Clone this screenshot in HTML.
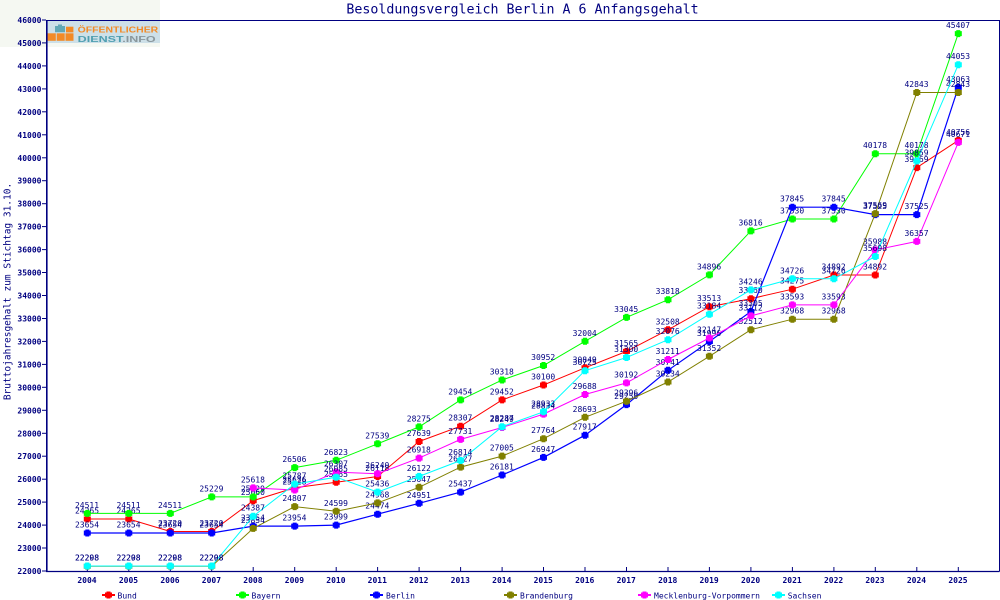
<!DOCTYPE html>
<html><head><meta charset="utf-8"><style>
html,body{margin:0;padding:0;background:#fff;}
svg{display:block;}
.lb{font-family:"DejaVu Sans Mono","Liberation Mono",monospace;font-size:8px;fill:#000080;text-anchor:middle;}
.tk{font-family:"DejaVu Sans Mono","Liberation Mono",monospace;font-size:8px;font-weight:bold;fill:#000080;}
</style></head><body>
<svg width="1000" height="600" viewBox="0 0 1000 600" xmlns="http://www.w3.org/2000/svg">
<defs><path id="m" d="M-2,-3.5h4v1h1.5v5h-1.5v1h-4v-1h-1.5v-5h1.5z"/></defs>
<rect x="0" y="0" width="1000" height="600" fill="#fff"/>
<rect x="0" y="0" width="160" height="47" fill="#f5f8f2"/>
<!-- logo -->
<rect x="47" y="20" width="113" height="23" fill="#cde0e8"/>
<rect x="47.5" y="33.3" width="8.3" height="7.5" fill="#f28a26"/>
<rect x="56.7" y="33.3" width="8" height="7.5" fill="#f28a26"/>
<rect x="65.5" y="33.3" width="8" height="7.5" fill="#f28a26"/>
<path d="M55,26 h3 v-1.5 h4 v1.5 h3 v6.3 h-10z" fill="#62a8b6"/>
<rect x="66" y="26.7" width="7.4" height="5.7" fill="#f28a26"/>
<text x="77.7" y="32.5" textLength="80.5" lengthAdjust="spacingAndGlyphs" font-family="Liberation Sans,sans-serif" font-weight="bold" font-size="8.2" fill="#f28a26">ÖFFENTLICHER</text>
<text x="77.7" y="41.8" textLength="78" lengthAdjust="spacingAndGlyphs" font-family="Liberation Sans,sans-serif" font-weight="bold" font-size="8.6" fill="#4e9eb0">DIENST<tspan fill="#8a979c">.INFO</tspan></text>

<!-- title -->
<text x="522.5" y="13.3" font-family="DejaVu Sans Mono,Liberation Mono,monospace" font-size="13.3" fill="#000080" text-anchor="middle">Besoldungsvergleich Berlin A 6 Anfangsgehalt</text>
<text transform="translate(10.5,291.5) rotate(-90)" font-family="DejaVu Sans Mono,Liberation Mono,monospace" font-size="9.5" fill="#000080" text-anchor="middle">Bruttojahresgehalt zum Stichtag 31.10.</text>

<!-- frame -->
<g stroke="#000080" fill="none">
<line x1="46" y1="20.5" x2="999.5" y2="20.5" stroke-width="1"/>
<line x1="999.5" y1="20" x2="999.5" y2="571.5" stroke-width="1"/>
<line x1="46.8" y1="20" x2="46.8" y2="572" stroke-width="1.6"/>
<line x1="46" y1="571.5" x2="999.5" y2="571.5" stroke-width="1.2"/>
</g>
<!-- y ticks -->
<g stroke="#000080" stroke-width="1">
<line x1="42" y1="571" x2="46" y2="571"/><line x1="42" y1="548" x2="46" y2="548"/><line x1="42" y1="525.1" x2="46" y2="525.1"/><line x1="42" y1="502.1" x2="46" y2="502.1"/><line x1="42" y1="479.2" x2="46" y2="479.2"/><line x1="42" y1="456.2" x2="46" y2="456.2"/><line x1="42" y1="433.3" x2="46" y2="433.3"/><line x1="42" y1="410.3" x2="46" y2="410.3"/><line x1="42" y1="387.3" x2="46" y2="387.3"/><line x1="42" y1="364.4" x2="46" y2="364.4"/><line x1="42" y1="341.4" x2="46" y2="341.4"/><line x1="42" y1="318.5" x2="46" y2="318.5"/><line x1="42" y1="295.5" x2="46" y2="295.5"/><line x1="42" y1="272.5" x2="46" y2="272.5"/><line x1="42" y1="249.6" x2="46" y2="249.6"/><line x1="42" y1="226.6" x2="46" y2="226.6"/><line x1="42" y1="203.7" x2="46" y2="203.7"/><line x1="42" y1="180.7" x2="46" y2="180.7"/><line x1="42" y1="157.8" x2="46" y2="157.8"/><line x1="42" y1="134.8" x2="46" y2="134.8"/><line x1="42" y1="111.8" x2="46" y2="111.8"/><line x1="42" y1="88.9" x2="46" y2="88.9"/><line x1="42" y1="65.9" x2="46" y2="65.9"/><line x1="42" y1="42.9" x2="46" y2="42.9"/><line x1="42" y1="20" x2="46" y2="20"/>
</g>
<g class="tk" text-anchor="end">
<text x="41.5" y="574">22000</text><text x="41.5" y="551">23000</text><text x="41.5" y="528.1">24000</text><text x="41.5" y="505.1">25000</text><text x="41.5" y="482.2">26000</text><text x="41.5" y="459.2">27000</text><text x="41.5" y="436.3">28000</text><text x="41.5" y="413.3">29000</text><text x="41.5" y="390.3">30000</text><text x="41.5" y="367.4">31000</text><text x="41.5" y="344.4">32000</text><text x="41.5" y="321.5">33000</text><text x="41.5" y="298.5">34000</text><text x="41.5" y="275.5">35000</text><text x="41.5" y="252.6">36000</text><text x="41.5" y="229.6">37000</text><text x="41.5" y="206.7">38000</text><text x="41.5" y="183.7">39000</text><text x="41.5" y="160.8">40000</text><text x="41.5" y="137.8">41000</text><text x="41.5" y="114.8">42000</text><text x="41.5" y="91.9">43000</text><text x="41.5" y="68.9">44000</text><text x="41.5" y="45.9">45000</text><text x="41.5" y="23">46000</text>
</g>
<!-- x ticks -->
<g stroke="#000080" stroke-width="1">
<line x1="87.3" y1="567" x2="87.3" y2="571"/><line x1="128.8" y1="567" x2="128.8" y2="571"/><line x1="170.3" y1="567" x2="170.3" y2="571"/><line x1="211.7" y1="567" x2="211.7" y2="571"/><line x1="253.2" y1="567" x2="253.2" y2="571"/><line x1="294.7" y1="567" x2="294.7" y2="571"/><line x1="336.2" y1="567" x2="336.2" y2="571"/><line x1="377.6" y1="567" x2="377.6" y2="571"/><line x1="419.1" y1="567" x2="419.1" y2="571"/><line x1="460.6" y1="567" x2="460.6" y2="571"/><line x1="502.1" y1="567" x2="502.1" y2="571"/><line x1="543.5" y1="567" x2="543.5" y2="571"/><line x1="585" y1="567" x2="585" y2="571"/><line x1="626.5" y1="567" x2="626.5" y2="571"/><line x1="668" y1="567" x2="668" y2="571"/><line x1="709.4" y1="567" x2="709.4" y2="571"/><line x1="750.9" y1="567" x2="750.9" y2="571"/><line x1="792.4" y1="567" x2="792.4" y2="571"/><line x1="833.9" y1="567" x2="833.9" y2="571"/><line x1="875.3" y1="567" x2="875.3" y2="571"/><line x1="916.8" y1="567" x2="916.8" y2="571"/><line x1="958.3" y1="567" x2="958.3" y2="571"/>
</g>
<g class="tk" text-anchor="middle">
<text x="87" y="583">2004</text><text x="128.5" y="583">2005</text><text x="170" y="583">2006</text><text x="211.4" y="583">2007</text><text x="252.9" y="583">2008</text><text x="294.4" y="583">2009</text><text x="335.9" y="583">2010</text><text x="377.3" y="583">2011</text><text x="418.8" y="583">2012</text><text x="460.3" y="583">2013</text><text x="501.8" y="583">2014</text><text x="543.2" y="583">2015</text><text x="584.7" y="583">2016</text><text x="626.2" y="583">2017</text><text x="667.7" y="583">2018</text><text x="709.1" y="583">2019</text><text x="750.6" y="583">2020</text><text x="792.1" y="583">2021</text><text x="833.6" y="583">2022</text><text x="875" y="583">2023</text><text x="916.5" y="583">2024</text><text x="958" y="583">2025</text>
</g>

<!-- Bund -->
<polyline fill="none" stroke="#ff0000" stroke-width="1" points="87.3,519 128.8,519 170.3,531.5 211.7,531.5 253.2,500.7 294.7,487.8 336.2,482.3 377.6,476.5 419.1,441.5 460.6,426.2 502.1,399.9 543.5,385 585,367.8 626.5,351.4 668,329.8 709.4,306.7 750.9,298.7 792.4,289.2 833.9,275 875.3,275 916.8,167.6 958.3,140.4"/>
<g fill="#ff0000">
<use href="#m" x="87.3" y="519"/><use href="#m" x="128.8" y="519"/><use href="#m" x="170.3" y="531.5"/><use href="#m" x="211.7" y="531.5"/><use href="#m" x="253.2" y="500.7"/><use href="#m" x="294.7" y="487.8"/><use href="#m" x="336.2" y="482.3"/><use href="#m" x="377.6" y="476.5"/><use href="#m" x="419.1" y="441.5"/><use href="#m" x="460.6" y="426.2"/><use href="#m" x="502.1" y="399.9"/><use href="#m" x="543.5" y="385"/><use href="#m" x="585" y="367.8"/><use href="#m" x="626.5" y="351.4"/><use href="#m" x="668" y="329.8"/><use href="#m" x="709.4" y="306.7"/><use href="#m" x="750.9" y="298.7"/><use href="#m" x="792.4" y="289.2"/><use href="#m" x="833.9" y="275"/><use href="#m" x="875.3" y="275"/><use href="#m" x="916.8" y="167.6"/><use href="#m" x="958.3" y="140.4"/>
</g>
<g class="lb">
<text x="87" y="513.5">24265</text><text x="128.5" y="513.5">24265</text><text x="170" y="526">23720</text><text x="211.4" y="526">23720</text><text x="252.9" y="495.2">25060</text><text x="294.4" y="482.3">25626</text><text x="335.9" y="476.8">25865</text><text x="377.3" y="471">26118</text><text x="418.8" y="436">27639</text><text x="460.3" y="420.7">28307</text><text x="501.8" y="394.4">29452</text><text x="543.2" y="379.5">30100</text><text x="584.7" y="362.3">30849</text><text x="626.2" y="345.9">31565</text><text x="667.7" y="324.3">32508</text><text x="709.1" y="301.2">33513</text><text x="750.6" y="293.2">33860</text><text x="792.1" y="283.7">34275</text><text x="833.6" y="269.5">34892</text><text x="875" y="269.5">34892</text><text x="916.5" y="162.1">39569</text><text x="958" y="134.9">40756</text>
</g>

<!-- Bayern -->
<polyline fill="none" stroke="#00ff00" stroke-width="1" points="87.3,513.4 128.8,513.4 170.3,513.4 211.7,496.9 253.2,496.9 294.7,467.6 336.2,460.3 377.6,443.8 419.1,426.9 460.6,399.9 502.1,380 543.5,365.5 585,341.3 626.5,317.4 668,299.7 709.4,274.9 750.9,230.9 792.4,219 833.9,219 875.3,153.7 916.8,153.7 958.3,33.6"/>
<g fill="#00ff00">
<use href="#m" x="87.3" y="513.4"/><use href="#m" x="128.8" y="513.4"/><use href="#m" x="170.3" y="513.4"/><use href="#m" x="211.7" y="496.9"/><use href="#m" x="253.2" y="496.9"/><use href="#m" x="294.7" y="467.6"/><use href="#m" x="336.2" y="460.3"/><use href="#m" x="377.6" y="443.8"/><use href="#m" x="419.1" y="426.9"/><use href="#m" x="460.6" y="399.9"/><use href="#m" x="502.1" y="380"/><use href="#m" x="543.5" y="365.5"/><use href="#m" x="585" y="341.3"/><use href="#m" x="626.5" y="317.4"/><use href="#m" x="668" y="299.7"/><use href="#m" x="709.4" y="274.9"/><use href="#m" x="750.9" y="230.9"/><use href="#m" x="792.4" y="219"/><use href="#m" x="833.9" y="219"/><use href="#m" x="875.3" y="153.7"/><use href="#m" x="916.8" y="153.7"/><use href="#m" x="958.3" y="33.6"/>
</g>
<g class="lb">
<text x="87" y="507.9">24511</text><text x="128.5" y="507.9">24511</text><text x="170" y="507.9">24511</text><text x="211.4" y="491.4">25229</text><text x="252.9" y="491.4">25229</text><text x="294.4" y="462.1">26506</text><text x="335.9" y="454.8">26823</text><text x="377.3" y="438.3">27539</text><text x="418.8" y="421.4">28275</text><text x="460.3" y="394.4">29454</text><text x="501.8" y="374.5">30318</text><text x="543.2" y="360">30952</text><text x="584.7" y="335.8">32004</text><text x="626.2" y="311.9">33045</text><text x="667.7" y="294.2">33818</text><text x="709.1" y="269.4">34896</text><text x="750.6" y="225.4">36816</text><text x="792.1" y="213.5">37330</text><text x="833.6" y="213.5">37330</text><text x="875" y="148.2">40178</text><text x="916.5" y="148.2">40178</text><text x="958" y="28.1">45407</text>
</g>

<!-- Berlin -->
<polyline fill="none" stroke="#0000ff" stroke-width="1.2" points="87.3,533 128.8,533 170.3,533 211.7,533 253.2,526.1 294.7,526.1 336.2,525.1 377.6,514.2 419.1,503.3 460.6,492.1 502.1,475 543.5,457.4 585,435.2 626.5,404.6 668,370.3 709.4,341.5 750.9,311.5 792.4,207.2 833.9,207.2 875.3,214.6 916.8,214.6 958.3,87.4"/>
<g fill="#0000ff">
<use href="#m" x="87.3" y="533"/><use href="#m" x="128.8" y="533"/><use href="#m" x="170.3" y="533"/><use href="#m" x="211.7" y="533"/><use href="#m" x="253.2" y="526.1"/><use href="#m" x="294.7" y="526.1"/><use href="#m" x="336.2" y="525.1"/><use href="#m" x="377.6" y="514.2"/><use href="#m" x="419.1" y="503.3"/><use href="#m" x="460.6" y="492.1"/><use href="#m" x="502.1" y="475"/><use href="#m" x="543.5" y="457.4"/><use href="#m" x="585" y="435.2"/><use href="#m" x="626.5" y="404.6"/><use href="#m" x="668" y="370.3"/><use href="#m" x="709.4" y="341.5"/><use href="#m" x="750.9" y="311.5"/><use href="#m" x="792.4" y="207.2"/><use href="#m" x="833.9" y="207.2"/><use href="#m" x="875.3" y="214.6"/><use href="#m" x="916.8" y="214.6"/><use href="#m" x="958.3" y="87.4"/>
</g>
<g class="lb">
<text x="87" y="527.5">23654</text><text x="128.5" y="527.5">23654</text><text x="170" y="527.5">23654</text><text x="211.4" y="527.5">23654</text><text x="252.9" y="520.6">23954</text><text x="294.4" y="520.6">23954</text><text x="335.9" y="519.6">23999</text><text x="377.3" y="508.7">24474</text><text x="418.8" y="497.8">24951</text><text x="460.3" y="486.6">25437</text><text x="501.8" y="469.5">26181</text><text x="543.2" y="451.9">26947</text><text x="584.7" y="429.7">27917</text><text x="626.2" y="399.1">29250</text><text x="667.7" y="364.8">30741</text><text x="709.1" y="336">31996</text><text x="750.6" y="306">33305</text><text x="792.1" y="201.7">37845</text><text x="833.6" y="201.7">37845</text><text x="875" y="209.1">37525</text><text x="916.5" y="209.1">37525</text><text x="958" y="81.9">43063</text>
</g>

<!-- Brandenburg -->
<polyline fill="none" stroke="#808000" stroke-width="1" points="87.3,566.2 128.8,566.2 170.3,566.2 211.7,566.2 253.2,528.4 294.7,506.6 336.2,511.3 377.6,502.9 419.1,487.3 460.6,467.1 502.1,456.1 543.5,438.7 585,417.3 626.5,401.2 668,382 709.4,356.3 750.9,329.7 792.4,319.2 833.9,319.2 875.3,213.6 916.8,92.5 958.3,92.5"/>
<g fill="#808000">
<use href="#m" x="87.3" y="566.2"/><use href="#m" x="128.8" y="566.2"/><use href="#m" x="170.3" y="566.2"/><use href="#m" x="211.7" y="566.2"/><use href="#m" x="253.2" y="528.4"/><use href="#m" x="294.7" y="506.6"/><use href="#m" x="336.2" y="511.3"/><use href="#m" x="377.6" y="502.9"/><use href="#m" x="419.1" y="487.3"/><use href="#m" x="460.6" y="467.1"/><use href="#m" x="502.1" y="456.1"/><use href="#m" x="543.5" y="438.7"/><use href="#m" x="585" y="417.3"/><use href="#m" x="626.5" y="401.2"/><use href="#m" x="668" y="382"/><use href="#m" x="709.4" y="356.3"/><use href="#m" x="750.9" y="329.7"/><use href="#m" x="792.4" y="319.2"/><use href="#m" x="833.9" y="319.2"/><use href="#m" x="875.3" y="213.6"/><use href="#m" x="916.8" y="92.5"/><use href="#m" x="958.3" y="92.5"/>
</g>
<g class="lb">
<text x="87" y="560.7">22208</text><text x="128.5" y="560.7">22208</text><text x="170" y="560.7">22208</text><text x="211.4" y="560.7">22208</text><text x="252.9" y="522.9">23854</text><text x="294.4" y="501.1">24807</text><text x="335.9" y="505.8">24599</text><text x="377.3" y="497.4">24968</text><text x="418.8" y="481.8">25647</text><text x="460.3" y="461.6">26527</text><text x="501.8" y="450.6">27005</text><text x="543.2" y="433.2">27764</text><text x="584.7" y="411.8">28693</text><text x="626.2" y="395.7">29396</text><text x="667.7" y="376.5">30234</text><text x="709.1" y="350.8">31352</text><text x="750.6" y="324.2">32512</text><text x="792.1" y="313.7">32968</text><text x="833.6" y="313.7">32968</text><text x="875" y="208.1">37569</text><text x="916.5" y="87">42843</text><text x="958" y="87">42843</text>
</g>

<!-- Mecklenburg-Vorpommern -->
<polyline fill="none" stroke="#ff00ff" stroke-width="1" points="253.2,487.9 294.7,490 336.2,472.1 377.6,473.7 419.1,458.1 460.6,439.4 502.1,427.5 543.5,414.1 585,394.5 626.5,382.9 668,359.5 709.4,338 750.9,315.9 792.4,304.9 833.9,304.9 875.3,249.9 916.8,241.4 958.3,142.4"/>
<g fill="#ff00ff">
<use href="#m" x="253.2" y="487.9"/><use href="#m" x="294.7" y="490"/><use href="#m" x="336.2" y="472.1"/><use href="#m" x="377.6" y="473.7"/><use href="#m" x="419.1" y="458.1"/><use href="#m" x="460.6" y="439.4"/><use href="#m" x="502.1" y="427.5"/><use href="#m" x="543.5" y="414.1"/><use href="#m" x="585" y="394.5"/><use href="#m" x="626.5" y="382.9"/><use href="#m" x="668" y="359.5"/><use href="#m" x="709.4" y="338"/><use href="#m" x="750.9" y="315.9"/><use href="#m" x="792.4" y="304.9"/><use href="#m" x="833.9" y="304.9"/><use href="#m" x="875.3" y="249.9"/><use href="#m" x="916.8" y="241.4"/><use href="#m" x="958.3" y="142.4"/>
</g>
<g class="lb">
<text x="252.9" y="482.4">25618</text><text x="294.4" y="484.5">25528</text><text x="335.9" y="466.6">26307</text><text x="377.3" y="468.2">26240</text><text x="418.8" y="452.6">26918</text><text x="460.3" y="433.9">27731</text><text x="501.8" y="422">28249</text><text x="543.2" y="408.6">28834</text><text x="584.7" y="389">29688</text><text x="626.2" y="377.4">30192</text><text x="667.7" y="354">31211</text><text x="709.1" y="332.5">32147</text><text x="750.6" y="310.4">33112</text><text x="792.1" y="299.4">33593</text><text x="833.6" y="299.4">33593</text><text x="875" y="244.4">35988</text><text x="916.5" y="235.9">36357</text><text x="958" y="136.9">40671</text>
</g>

<!-- Sachsen -->
<polyline fill="none" stroke="#00ffff" stroke-width="1" points="87.3,566 128.8,566 170.3,566 211.7,566 253.2,516.2 294.7,484.1 336.2,477.2 377.6,492.1 419.1,476.4 460.6,460.5 502.1,426.7 543.5,411.8 585,370.7 626.5,357.5 668,339.7 709.4,314.2 750.9,289.9 792.4,278.8 833.9,278.8 875.3,256.5 916.8,161 958.3,64.7"/>
<g fill="#00ffff">
<use href="#m" x="87.3" y="566"/><use href="#m" x="128.8" y="566"/><use href="#m" x="170.3" y="566"/><use href="#m" x="211.7" y="566"/><use href="#m" x="253.2" y="516.2"/><use href="#m" x="294.7" y="484.1"/><use href="#m" x="336.2" y="477.2"/><use href="#m" x="377.6" y="492.1"/><use href="#m" x="419.1" y="476.4"/><use href="#m" x="460.6" y="460.5"/><use href="#m" x="502.1" y="426.7"/><use href="#m" x="543.5" y="411.8"/><use href="#m" x="585" y="370.7"/><use href="#m" x="626.5" y="357.5"/><use href="#m" x="668" y="339.7"/><use href="#m" x="709.4" y="314.2"/><use href="#m" x="750.9" y="289.9"/><use href="#m" x="792.4" y="278.8"/><use href="#m" x="833.9" y="278.8"/><use href="#m" x="875.3" y="256.5"/><use href="#m" x="916.8" y="161"/><use href="#m" x="958.3" y="64.7"/>
</g>
<g class="lb">
<text x="87" y="560.5">22298</text><text x="128.5" y="560.5">22298</text><text x="170" y="560.5">22298</text><text x="211.4" y="560.5">22298</text><text x="252.9" y="510.7">24387</text><text x="294.4" y="478.6">25787</text><text x="335.9" y="471.7">26085</text><text x="377.3" y="486.6">25436</text><text x="418.8" y="470.9">26122</text><text x="460.3" y="455">26814</text><text x="501.8" y="421.2">28287</text><text x="543.2" y="406.3">28933</text><text x="584.7" y="365.2">30725</text><text x="626.2" y="352">31300</text><text x="667.7" y="334.2">32076</text><text x="709.1" y="308.7">33184</text><text x="750.6" y="284.4">34246</text><text x="792.1" y="273.3">34726</text><text x="833.6" y="273.3">34726</text><text x="875" y="251">35698</text><text x="916.5" y="155.5">39859</text><text x="958" y="59.2">44053</text>
</g>

<!-- legend -->
<g stroke-width="2">
<line x1="102" y1="595" x2="115" y2="595" stroke="#ff0000"/>
<line x1="236" y1="595" x2="249" y2="595" stroke="#00ff00"/>
<line x1="370" y1="595" x2="383" y2="595" stroke="#0000ff"/>
<line x1="504" y1="595" x2="517" y2="595" stroke="#808000"/>
<line x1="638" y1="595" x2="651" y2="595" stroke="#ff00ff"/>
<line x1="772" y1="595" x2="785" y2="595" stroke="#00ffff"/>
</g>
<use href="#m" x="108.5" y="595" fill="#ff0000"/>
<use href="#m" x="242.5" y="595" fill="#00ff00"/>
<use href="#m" x="376.5" y="595" fill="#0000ff"/>
<use href="#m" x="510.5" y="595" fill="#808000"/>
<use href="#m" x="644.5" y="595" fill="#ff00ff"/>
<use href="#m" x="778.5" y="595" fill="#00ffff"/>
<g font-family="DejaVu Sans Mono,Liberation Mono,monospace" font-size="8" fill="#000080">
<text x="117.5" y="598.3">Bund</text>
<text x="251.5" y="598.3">Bayern</text>
<text x="386" y="598.3">Berlin</text>
<text x="520" y="598.3">Brandenburg</text>
<text x="654" y="598.3">Mecklenburg-Vorpommern</text>
<text x="787.7" y="598.3">Sachsen</text>
</g>
</svg>
</body></html>
